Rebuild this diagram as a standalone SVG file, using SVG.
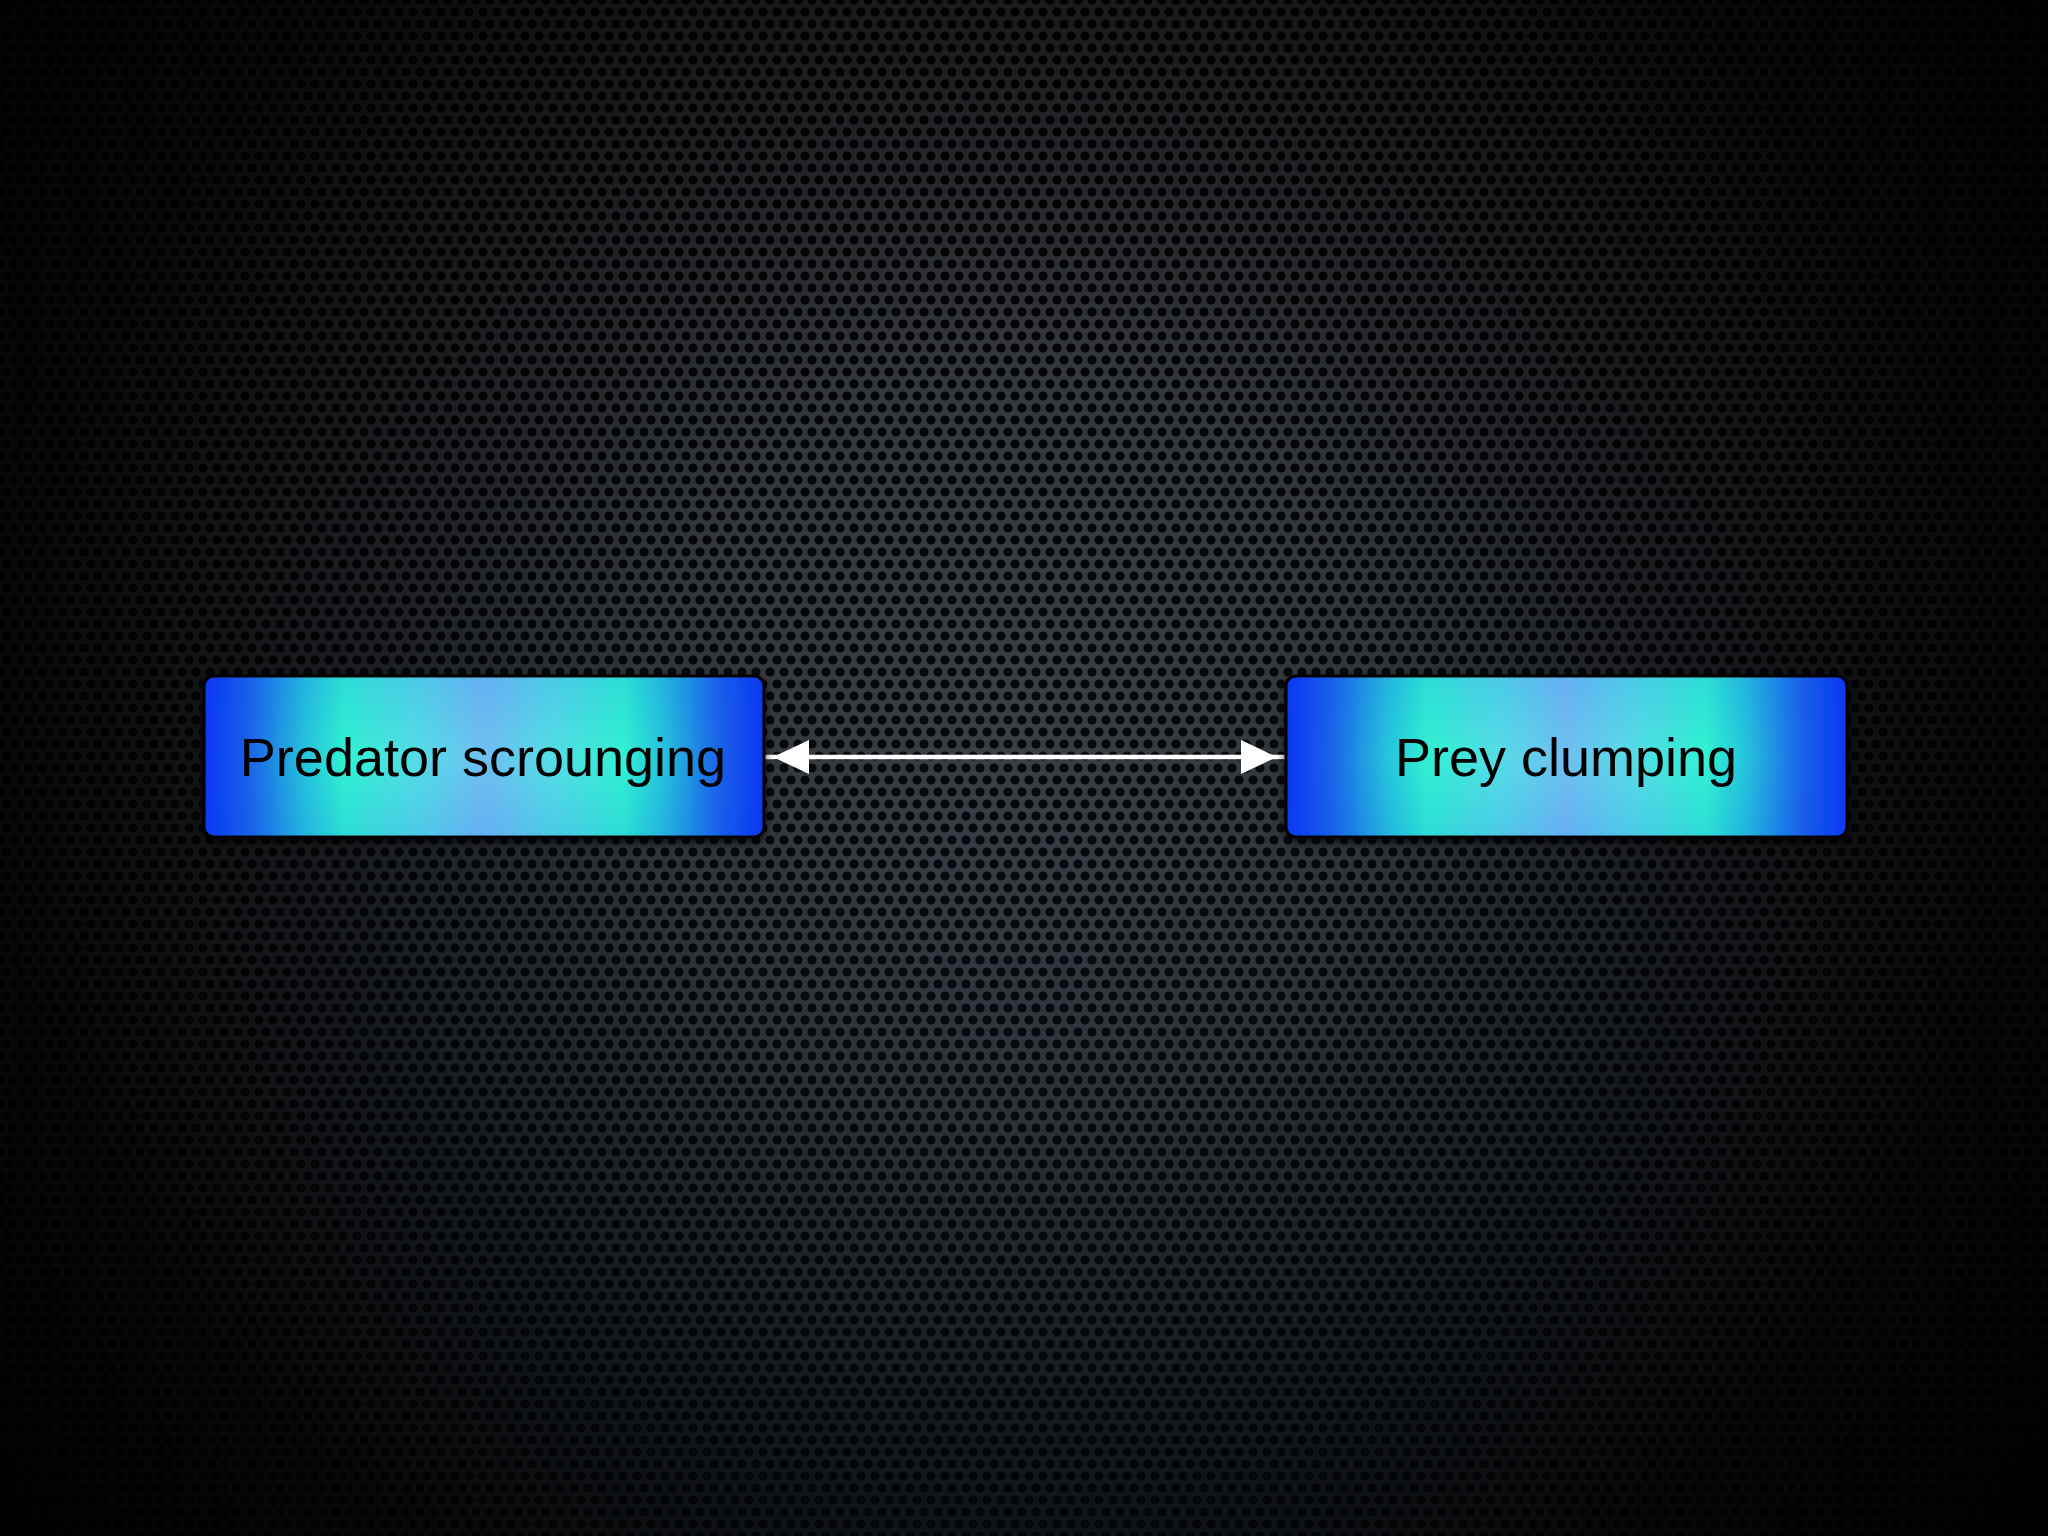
<svg xmlns="http://www.w3.org/2000/svg" width="2048" height="1536" viewBox="0 0 2048 1536">
  <defs>
    <pattern id="mesh" x="0" y="0" width="14" height="24" patternUnits="userSpaceOnUse">
      <rect width="14" height="24" fill="#474a50"/>
      <circle cx="0" cy="0" r="4.6" fill="#050506"/>
      <circle cx="14" cy="0" r="4.6" fill="#050506"/>
      <circle cx="0" cy="24" r="4.6" fill="#050506"/>
      <circle cx="14" cy="24" r="4.6" fill="#050506"/>
      <circle cx="7" cy="12" r="4.6" fill="#050506"/>
    </pattern>
    <radialGradient id="vignette" cx="1010" cy="740" r="1250" gradientUnits="userSpaceOnUse">
      <stop offset="0" stop-color="#000" stop-opacity="0.05"/>
      <stop offset="0.3" stop-color="#000" stop-opacity="0.22"/>
      <stop offset="0.55" stop-color="#000" stop-opacity="0.6"/>
      <stop offset="0.8" stop-color="#000" stop-opacity="0.88"/>
      <stop offset="1" stop-color="#000" stop-opacity="0.97"/>
    </radialGradient>
    <linearGradient id="tint" x1="0" y1="0" x2="0" y2="1">
      <stop offset="0" stop-color="#0a1420" stop-opacity="0"/>
      <stop offset="1" stop-color="#12283a" stop-opacity="0.35"/>
    </linearGradient>
    <linearGradient id="boxH" x1="0" y1="0" x2="1" y2="0">
      <stop offset="0" stop-color="#0836f2"/>
      <stop offset="0.08" stop-color="#1a62ea"/>
      <stop offset="0.18" stop-color="#26c4dc"/>
      <stop offset="0.25" stop-color="#30f2d2"/>
      <stop offset="0.38" stop-color="#55dde6"/>
      <stop offset="0.5" stop-color="#70bff2"/>
      <stop offset="0.62" stop-color="#55dde6"/>
      <stop offset="0.75" stop-color="#30f2d2"/>
      <stop offset="0.82" stop-color="#26c4dc"/>
      <stop offset="0.92" stop-color="#1a62ea"/>
      <stop offset="1" stop-color="#0836f2"/>
    </linearGradient>
    <linearGradient id="boxV" x1="0" y1="0" x2="0" y2="1">
      <stop offset="0" stop-color="#0a40f0" stop-opacity="0.12"/>
      <stop offset="0.5" stop-color="#0a40f0" stop-opacity="0"/>
      <stop offset="1" stop-color="#0a40f0" stop-opacity="0.12"/>
    </linearGradient>
    <filter id="shadow" x="-10%" y="-20%" width="120%" height="150%">
      <feDropShadow dx="0" dy="4" stdDeviation="4" flood-color="#000" flood-opacity="0.7"/>
    </filter>
  </defs>
  <style>
    .box { stroke: #050505; stroke-width: 3; }
    .label { font-family: "Liberation Sans", Arial, Helvetica, sans-serif; font-size: 54px; fill: #000; text-anchor: middle; }
    .conn { stroke: #ffffff; stroke-width: 4.5; stroke-linecap: round; fill: none; }
    .head { fill: #ffffff; }
  </style>

  <rect width="2048" height="1536" fill="url(#mesh)"/>
  <rect width="2048" height="1536" fill="url(#tint)"/>
  <rect width="2048" height="1536" fill="url(#vignette)"/>

  <g id="connectors">
    <line class="conn" x1="765" y1="757" x2="1285" y2="757"/>
    <polygon class="head" points="773,757 809,740 809,774"/>
    <polygon class="head" points="1277,757 1241,740 1241,774"/>
  </g>

  <g id="node-predator">
    <g filter="url(#shadow)">
      <rect class="box" x="204" y="676" width="560" height="161" rx="10" ry="10" fill="url(#boxH)"/>
    </g>
    <rect x="205.5" y="677.5" width="557" height="158" rx="9" ry="9" fill="url(#boxV)"/>
    <text class="label" x="483" y="776">Predator scrounging</text>
  </g>

  <g id="node-prey">
    <g filter="url(#shadow)">
      <rect class="box" x="1286" y="676" width="561" height="161" rx="10" ry="10" fill="url(#boxH)"/>
    </g>
    <rect x="1287.5" y="677.5" width="558" height="158" rx="9" ry="9" fill="url(#boxV)"/>
    <text class="label" x="1566" y="776">Prey clumping</text>
  </g>
</svg>
